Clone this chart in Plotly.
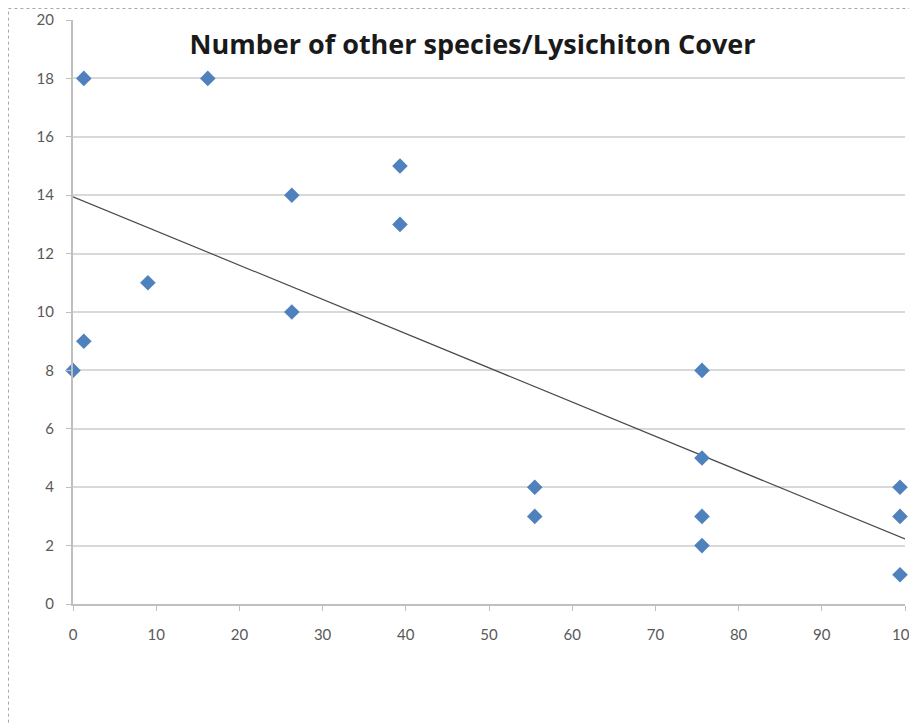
import numpy as np
import plotly.graph_objects as go

# Data
cover = [0, 1.3, 1.3, 9, 16.2, 26.3, 26.3, 39.3, 39.3, 55.5, 55.5, 75.6, 75.6, 75.6, 75.6, 99.4, 99.4, 99.4]
species = [8, 9, 18, 11, 18, 14, 10, 15, 13, 4, 3, 8, 5, 3, 2, 4, 3, 1]
x_ticks = [0, 10, 20, 30, 40, 50, 60, 70, 80, 90, 100]
y_ticks = [0, 2, 4, 6, 8, 10, 12, 14, 16, 18, 20]
title_text = "Number of other species/Lysichiton Cover"

# Linear trendline (least squares, as in the spreadsheet chart)
slope, intercept = np.polyfit(cover, species, 1)
trend_x = [0, 100]
trend_y = [intercept + slope * v for v in trend_x]

fig = go.Figure()
fig.add_trace(go.Scatter(
    x=trend_x, y=trend_y, mode="lines",
    line=dict(color="#4a4a4a", width=1.2),
    hoverinfo="skip", showlegend=False,
))
fig.add_trace(go.Scatter(
    x=cover, y=species, mode="markers",
    marker=dict(symbol="diamond", size=12, color="#4F81BD",
                line=dict(width=0)),
    cliponaxis=False, showlegend=False,
))

tickfont = dict(family="Lato, Carlito, sans-serif", size=15, color="#595959")

# The page body has an 8px default margin, so the figure is sized/offset accordingly
W, H = 909, 717
L, R, T, B = 65, 12, 12, 121
PW, PH = W - L - R, H - T - B
fig.update_layout(
    width=W, height=H,
    paper_bgcolor="white", plot_bgcolor="white",
    margin=dict(l=L, r=R, t=T, b=B, autoexpand=False),
    title=dict(text=f"<b>{title_text}</b>", x=0.511, xanchor="center",
               y=1 - 37 / H, yanchor="middle", automargin=False,
               font=dict(family="Open Sans, sans-serif", size=27, color="#1a1a1a")),
    xaxis=dict(range=[0, 100], tickmode="array", tickvals=x_ticks,
               ticktext=[str(v) for v in x_ticks], automargin=False,
               showgrid=False, zeroline=False,
               showline=True, linecolor="#bfbfbf", linewidth=2,
               ticks="outside", ticklen=5, tickcolor="#bfbfbf", tickwidth=1,
               tickfont=tickfont, ticklabelstandoff=11,
               ticklabeloverflow="allow"),
    yaxis=dict(range=[0, 20], tickmode="array", tickvals=y_ticks,
               ticktext=[str(v) for v in y_ticks], automargin=False,
               showgrid=True, gridcolor="#d9d9d9", gridwidth=2,
               zeroline=False,
               showline=True, linecolor="#bfbfbf", linewidth=2,
               ticks="outside", ticklen=5, tickcolor="#bfbfbf", tickwidth=1,
               tickfont=tickfont, ticklabelstandoff=9,
               ticklabeloverflow="allow"),
    shapes=[dict(type="rect", xref="paper", yref="paper",
                 x0=(0.5 - L) / PW, x1=1.2,
                 y0=-0.4, y1=(PH + T - 0.5) / PH,
                 line=dict(color="#a8a8a8", width=1, dash="dot"),
                 layer="below")],
)

fig.write_html("out.html")
